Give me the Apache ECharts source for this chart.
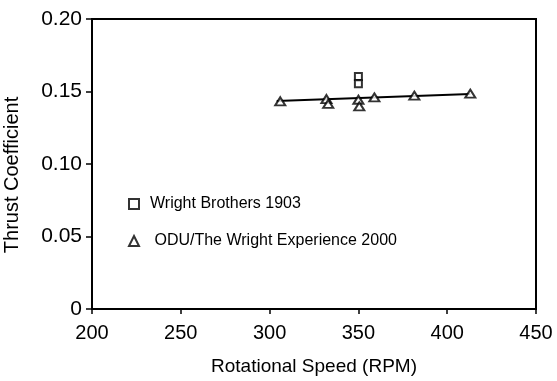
<!DOCTYPE html>
<html><head><meta charset="utf-8">
<script src="https://cdn.jsdelivr.net/npm/echarts@6/dist/echarts.min.js"></script>
<style>html,body{margin:0;padding:0;background:#fff}#c{width:557px;height:381px}</style>
</head><body><div id="c"></div>
<script>
// Data
const wrightBrothers1903 = [[350, 0.1604], [350, 0.1554]];
const oduWrightExperience2000 = [
  [306, 0.1432], [332, 0.1448], [333, 0.1414], [350, 0.1443],
  [350.5, 0.1397], [359, 0.1459], [381.5, 0.1471], [413, 0.1485]
];
const trendLine = [[304, 0.1434], [413, 0.1482]];
const xTicks = [200, 250, 300, 350, 400, 450];
const yTicks = [0, 0.05, 0.10, 0.15, 0.20];

const font = 'Liberation Sans, Arial, sans-serif';
const chart = echarts.init(document.getElementById('c'), null, {renderer: 'canvas'});
chart.setOption({
  animation: false,
  backgroundColor: '#fff',
  grid: {left: 92, right: 21, top: 19, bottom: 72, containLabel: false, outerBoundsMode: 'none',
    show: true, borderColor: '#000', borderWidth: 2, backgroundColor: 'transparent'},
  xAxis: {
    type: 'value', min: xTicks[0], max: xTicks[xTicks.length - 1], interval: 50,
    name: 'Rotational Speed (RPM)', nameLocation: 'middle', nameGap: 48,
    nameTextStyle: {fontFamily: font, fontSize: 19, color: '#000'},
    axisLine: {show: true, lineStyle: {color: '#000', width: 2}},
    axisTick: {show: true, length: 5, lineStyle: {color: '#000', width: 1.5}},
    axisLabel: {fontFamily: font, fontSize: 20, color: '#000', margin: 14},
    splitLine: {show: false}
  },
  yAxis: {
    type: 'value', min: yTicks[0], max: yTicks[yTicks.length - 1], interval: 0.05,
    name: 'Thrust Coefficient', nameLocation: 'middle', nameGap: 70, nameRotate: 90,
    nameTextStyle: {fontFamily: font, fontSize: 20, color: '#000', padding: [0, 22, 0, 0]},
    axisLine: {show: true, lineStyle: {color: '#000', width: 2}},
    axisTick: {show: true, length: 6, inside: false, lineStyle: {color: '#000', width: 1.5}},
    axisLabel: {fontFamily: font, fontSize: 21, color: '#000', margin: 10,
      formatter: v => v === 0 ? '0' : v.toFixed(2)},
    splitLine: {show: false}
  },
  legend: {
    orient: 'vertical', left: 123, top: 191, itemGap: 21,
    itemWidth: 10, itemHeight: 10,
    textStyle: {fontFamily: font, fontSize: 16, color: '#000', padding: [0, 0, 0, 6]},
    formatter: n => n.indexOf('ODU') === 0 ? ' ' + n : n,
    data: ['Wright Brothers 1903', 'ODU/The Wright Experience 2000']
  },
  series: [
    {
      name: 'trend', type: 'line', data: trendLine, showSymbol: false, symbol: 'none',
      lineStyle: {color: '#000', width: 2}, z: 1
    },
    {
      name: 'Wright Brothers 1903', type: 'scatter', data: wrightBrothers1903,
      symbol: 'rect', symbolSize: 7,
      itemStyle: {color: '#fff', borderColor: '#000', borderWidth: 2}, z: 3
    },
    {
      name: 'ODU/The Wright Experience 2000', type: 'scatter', data: oduWrightExperience2000,
      symbol: 'triangle', symbolSize: [10, 8],
      itemStyle: {color: '#fff', borderColor: '#000', borderWidth: 2}, z: 3
    }
  ]
});
</script></body></html>
